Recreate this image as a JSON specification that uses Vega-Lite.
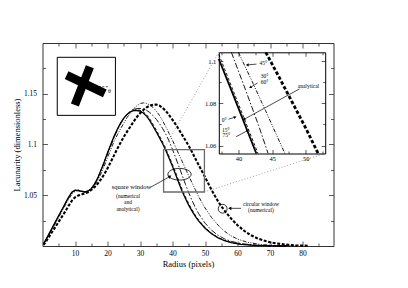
{
"$schema": "https://vega.github.io/schema/vega-lite/v6.json",
"width": 291, "height": 203,
"autosize": {"type": "none"},
"padding": {"left": 42.5, "top": 43, "right": 74.5, "bottom": 42},
"background": "white",
"config": {
  "font": "Liberation Serif",
  "view": {"stroke": null},
  "axis": {"grid": false, "domainColor": "#333333", "tickColor": "#333333", "labelColor": "black", "titleColor": "black", "titleFontWeight": "normal", "labelFont": "Liberation Serif", "titleFont": "Liberation Serif", "labelOverlap": false, "labelFlush": false},
  "text": {"font": "Liberation Serif"}
},
"datasets": {
  "main": [
    {"s":"A","x":0.3,"y":1.002},{"s":"A","x":1,"y":1.006},{"s":"A","x":2,"y":1.012},{"s":"A","x":3,"y":1.018},{"s":"A","x":4,"y":1.024},{"s":"A","x":5,"y":1.030},{"s":"A","x":6,"y":1.036},{"s":"A","x":7,"y":1.042},{"s":"A","x":8,"y":1.048},{"s":"A","x":9,"y":1.053},{"s":"A","x":10,"y":1.055},{"s":"A","x":11,"y":1.0548},{"s":"A","x":12,"y":1.0538},{"s":"A","x":13,"y":1.0532},{"s":"A","x":14,"y":1.054},{"s":"A","x":15,"y":1.0565},{"s":"A","x":16,"y":1.061},{"s":"A","x":17,"y":1.067},{"s":"A","x":18,"y":1.075},{"s":"A","x":19,"y":1.083},{"s":"A","x":20,"y":1.092},{"s":"A","x":21,"y":1.100},{"s":"A","x":22,"y":1.108},{"s":"A","x":23,"y":1.115},{"s":"A","x":24,"y":1.121},{"s":"A","x":25,"y":1.126},{"s":"A","x":26,"y":1.1295},{"s":"A","x":27,"y":1.132},{"s":"A","x":28,"y":1.1333},{"s":"A","x":29,"y":1.1335},{"s":"A","x":30,"y":1.1328},{"s":"A","x":31,"y":1.131},{"s":"A","x":32,"y":1.128},{"s":"A","x":33,"y":1.1235},{"s":"A","x":34,"y":1.118},{"s":"A","x":35,"y":1.1125},{"s":"A","x":36,"y":1.1065},{"s":"A","x":37,"y":1.1005},{"s":"A","x":38,"y":1.0935},{"s":"A","x":39,"y":1.086},{"s":"A","x":40,"y":1.0783},{"s":"A","x":41,"y":1.070},{"s":"A","x":42,"y":1.0615},{"s":"A","x":43,"y":1.0535},{"s":"A","x":44,"y":1.0465},{"s":"A","x":45,"y":1.040},{"s":"A","x":46,"y":1.0343},{"s":"A","x":47,"y":1.0292},{"s":"A","x":48,"y":1.0248},{"s":"A","x":50,"y":1.0175},{"s":"A","x":52,"y":1.012},{"s":"A","x":54,"y":1.008},{"s":"A","x":56,"y":1.0052},{"s":"A","x":58,"y":1.0033},{"s":"A","x":61,"y":1.0017},{"s":"A","x":65,"y":1.0007},{"s":"A","x":70,"y":1.0002},{"s":"A","x":75,"y":1.0},
    {"s":"B","x":0.3,"y":1.002},{"s":"B","x":1,"y":1.0055},{"s":"B","x":2,"y":1.0115},{"s":"B","x":3,"y":1.0175},{"s":"B","x":4,"y":1.0235},{"s":"B","x":5,"y":1.0295},{"s":"B","x":6,"y":1.0355},{"s":"B","x":7,"y":1.0415},{"s":"B","x":8,"y":1.0475},{"s":"B","x":9,"y":1.0525},{"s":"B","x":10,"y":1.0545},{"s":"B","x":11,"y":1.0545},{"s":"B","x":12,"y":1.0537},{"s":"B","x":13,"y":1.0533},{"s":"B","x":14,"y":1.0542},{"s":"B","x":15,"y":1.0568},{"s":"B","x":16,"y":1.0613},{"s":"B","x":17,"y":1.0672},{"s":"B","x":18,"y":1.0748},{"s":"B","x":19,"y":1.0828},{"s":"B","x":20,"y":1.0915},{"s":"B","x":21,"y":1.0995},{"s":"B","x":22,"y":1.1075},{"s":"B","x":23,"y":1.1145},{"s":"B","x":24,"y":1.1207},{"s":"B","x":25,"y":1.1258},{"s":"B","x":26,"y":1.1297},{"s":"B","x":27,"y":1.1323},{"s":"B","x":28,"y":1.1338},{"s":"B","x":29,"y":1.1343},{"s":"B","x":30,"y":1.1338},{"s":"B","x":31,"y":1.1322},{"s":"B","x":32,"y":1.1294},{"s":"B","x":33,"y":1.1252},{"s":"B","x":34,"y":1.1199},{"s":"B","x":35,"y":1.1143},{"s":"B","x":36,"y":1.1083},{"s":"B","x":37,"y":1.1022},{"s":"B","x":38,"y":1.0952},{"s":"B","x":39,"y":1.0878},{"s":"B","x":40,"y":1.0801},{"s":"B","x":41,"y":1.072},{"s":"B","x":42,"y":1.0635},{"s":"B","x":43,"y":1.0553},{"s":"B","x":44,"y":1.0481},{"s":"B","x":45,"y":1.0415},{"s":"B","x":46,"y":1.0356},{"s":"B","x":47,"y":1.0303},{"s":"B","x":48,"y":1.0257},{"s":"B","x":50,"y":1.0182},{"s":"B","x":52,"y":1.0125},{"s":"B","x":54,"y":1.0084},{"s":"B","x":56,"y":1.0055},{"s":"B","x":58,"y":1.0035},{"s":"B","x":61,"y":1.0018},{"s":"B","x":65,"y":1.0008},{"s":"B","x":70,"y":1.0002},{"s":"B","x":75,"y":1.0},
    {"s":"C","x":0.3,"y":1.002},{"s":"C","x":1,"y":1.0058},{"s":"C","x":2,"y":1.0118},{"s":"C","x":3,"y":1.0178},{"s":"C","x":4,"y":1.0238},{"s":"C","x":5,"y":1.0298},{"s":"C","x":6,"y":1.0358},{"s":"C","x":7,"y":1.0418},{"s":"C","x":8,"y":1.0478},{"s":"C","x":9,"y":1.0527},{"s":"C","x":10,"y":1.0548},{"s":"C","x":11,"y":1.055},{"s":"C","x":12,"y":1.0542},{"s":"C","x":13,"y":1.0535},{"s":"C","x":14,"y":1.0542},{"s":"C","x":15,"y":1.0565},{"s":"C","x":16,"y":1.0607},{"s":"C","x":17,"y":1.0665},{"s":"C","x":18,"y":1.074},{"s":"C","x":19,"y":1.082},{"s":"C","x":20,"y":1.0905},{"s":"C","x":21,"y":1.0988},{"s":"C","x":22,"y":1.1068},{"s":"C","x":23,"y":1.114},{"s":"C","x":24,"y":1.1203},{"s":"C","x":25,"y":1.1256},{"s":"C","x":26,"y":1.1298},{"s":"C","x":27,"y":1.1327},{"s":"C","x":28,"y":1.1345},{"s":"C","x":29,"y":1.1354},{"s":"C","x":30,"y":1.1356},{"s":"C","x":31,"y":1.135},{"s":"C","x":32,"y":1.1337},{"s":"C","x":33,"y":1.1315},{"s":"C","x":34,"y":1.1285},{"s":"C","x":35,"y":1.1248},{"s":"C","x":36,"y":1.1205},{"s":"C","x":37,"y":1.1155},{"s":"C","x":38,"y":1.1097},{"s":"C","x":39,"y":1.103},{"s":"C","x":40,"y":1.095},{"s":"C","x":41,"y":1.0866},{"s":"C","x":42,"y":1.078},{"s":"C","x":43,"y":1.0692},{"s":"C","x":44,"y":1.0605},{"s":"C","x":45,"y":1.0522},{"s":"C","x":46,"y":1.0447},{"s":"C","x":47,"y":1.038},{"s":"C","x":48,"y":1.032},{"s":"C","x":50,"y":1.0225},{"s":"C","x":52,"y":1.0155},{"s":"C","x":54,"y":1.0105},{"s":"C","x":56,"y":1.007},{"s":"C","x":58,"y":1.0046},{"s":"C","x":61,"y":1.0024},{"s":"C","x":65,"y":1.001},{"s":"C","x":70,"y":1.0003},{"s":"C","x":76,"y":1.0},
    {"s":"D","x":0.3,"y":1.002},{"s":"D","x":1,"y":1.0055},{"s":"D","x":2,"y":1.011},{"s":"D","x":3,"y":1.0168},{"s":"D","x":4,"y":1.0226},{"s":"D","x":5,"y":1.0284},{"s":"D","x":6,"y":1.0342},{"s":"D","x":7,"y":1.04},{"s":"D","x":8,"y":1.0458},{"s":"D","x":9,"y":1.051},{"s":"D","x":10,"y":1.0538},{"s":"D","x":11,"y":1.0545},{"s":"D","x":12,"y":1.0541},{"s":"D","x":13,"y":1.0536},{"s":"D","x":14,"y":1.0541},{"s":"D","x":15,"y":1.056},{"s":"D","x":16,"y":1.0597},{"s":"D","x":17,"y":1.0648},{"s":"D","x":18,"y":1.0712},{"s":"D","x":19,"y":1.0788},{"s":"D","x":20,"y":1.087},{"s":"D","x":21,"y":1.0952},{"s":"D","x":22,"y":1.103},{"s":"D","x":23,"y":1.1095},{"s":"D","x":24,"y":1.1155},{"s":"D","x":25,"y":1.121},{"s":"D","x":26,"y":1.1265},{"s":"D","x":27,"y":1.131},{"s":"D","x":28,"y":1.135},{"s":"D","x":29,"y":1.138},{"s":"D","x":30,"y":1.1403},{"s":"D","x":31,"y":1.141},{"s":"D","x":32,"y":1.1405},{"s":"D","x":33,"y":1.139},{"s":"D","x":34,"y":1.1365},{"s":"D","x":35,"y":1.133},{"s":"D","x":36,"y":1.1285},{"s":"D","x":37,"y":1.123},{"s":"D","x":38,"y":1.117},{"s":"D","x":39,"y":1.1105},{"s":"D","x":40,"y":1.104},{"s":"D","x":41,"y":1.097},{"s":"D","x":42,"y":1.09},{"s":"D","x":43,"y":1.083},{"s":"D","x":44,"y":1.076},{"s":"D","x":45,"y":1.069},{"s":"D","x":46,"y":1.0622},{"s":"D","x":47,"y":1.0555},{"s":"D","x":48,"y":1.049},{"s":"D","x":49,"y":1.043},{"s":"D","x":50,"y":1.0375},{"s":"D","x":52,"y":1.028},{"s":"D","x":54,"y":1.0205},{"s":"D","x":56,"y":1.0145},{"s":"D","x":58,"y":1.01},{"s":"D","x":60,"y":1.0068},{"s":"D","x":63,"y":1.0037},{"s":"D","x":67,"y":1.0015},{"s":"D","x":72,"y":1.0004},{"s":"D","x":78,"y":1.0},
    {"s":"E","x":0.3,"y":1.001},{"s":"E","x":1,"y":1.004},{"s":"E","x":2,"y":1.009},{"s":"E","x":3,"y":1.014},{"s":"E","x":4,"y":1.019},{"s":"E","x":5,"y":1.024},{"s":"E","x":6,"y":1.029},{"s":"E","x":7,"y":1.034},{"s":"E","x":8,"y":1.0395},{"s":"E","x":9,"y":1.0445},{"s":"E","x":10,"y":1.048},{"s":"E","x":11,"y":1.0497},{"s":"E","x":12,"y":1.0508},{"s":"E","x":13,"y":1.0518},{"s":"E","x":14,"y":1.053},{"s":"E","x":15,"y":1.0552},{"s":"E","x":16,"y":1.058},{"s":"E","x":17,"y":1.0615},{"s":"E","x":18,"y":1.0658},{"s":"E","x":19,"y":1.0708},{"s":"E","x":20,"y":1.0765},{"s":"E","x":21,"y":1.0828},{"s":"E","x":22,"y":1.0893},{"s":"E","x":23,"y":1.0957},{"s":"E","x":24,"y":1.1018},{"s":"E","x":25,"y":1.1075},{"s":"E","x":26,"y":1.1127},{"s":"E","x":27,"y":1.1175},{"s":"E","x":28,"y":1.1225},{"s":"E","x":29,"y":1.127},{"s":"E","x":30,"y":1.1308},{"s":"E","x":31,"y":1.134},{"s":"E","x":32,"y":1.1365},{"s":"E","x":33,"y":1.1383},{"s":"E","x":34,"y":1.1393},{"s":"E","x":35,"y":1.1393},{"s":"E","x":36,"y":1.1382},{"s":"E","x":37,"y":1.136},{"s":"E","x":38,"y":1.1328},{"s":"E","x":39,"y":1.1288},{"s":"E","x":40,"y":1.1243},{"s":"E","x":41,"y":1.1196},{"s":"E","x":42,"y":1.1145},{"s":"E","x":43,"y":1.1092},{"s":"E","x":44,"y":1.104},{"s":"E","x":45,"y":1.0985},{"s":"E","x":46,"y":1.0925},{"s":"E","x":47,"y":1.0862},{"s":"E","x":48,"y":1.08},{"s":"E","x":49,"y":1.074},{"s":"E","x":50,"y":1.0678},{"s":"E","x":51,"y":1.0615},{"s":"E","x":52,"y":1.0553},{"s":"E","x":53,"y":1.0495},{"s":"E","x":54,"y":1.044},{"s":"E","x":55,"y":1.0392},{"s":"E","x":56,"y":1.0348},{"s":"E","x":58,"y":1.027},{"s":"E","x":60,"y":1.0205},{"s":"E","x":62,"y":1.015},{"s":"E","x":64,"y":1.0108},{"s":"E","x":66,"y":1.0077},{"s":"E","x":68,"y":1.0054},{"s":"E","x":70,"y":1.0037},{"s":"E","x":72,"y":1.0025},{"s":"E","x":75,"y":1.0013},{"s":"E","x":78,"y":1.0006},{"s":"E","x":82,"y":1.0002}
  ],
  "inset": [
    {"s":"A","x":37.06,"y":1.1011},{"s":"A","x":39,"y":1.0857},{"s":"A","x":41,"y":1.0695},{"s":"A","x":42.64,"y":1.0562},
    {"s":"B","x":37.06,"y":1.1033},{"s":"B","x":39,"y":1.0877},{"s":"B","x":41,"y":1.0715},{"s":"B","x":42.9,"y":1.0562},
    {"s":"C","x":38.93,"y":1.1043},{"s":"C","x":41,"y":1.0868},{"s":"C","x":43,"y":1.0694},{"s":"C","x":44.4,"y":1.0562},
    {"s":"D","x":39.98,"y":1.1043},{"s":"D","x":42,"y":1.0906},{"s":"D","x":44,"y":1.0767},{"s":"D","x":46.9,"y":1.0562},
    {"s":"E","x":44.05,"y":1.1043},{"s":"E","x":46,"y":1.0927},{"s":"E","x":48,"y":1.0805},{"s":"E","x":50,"y":1.0683},{"s":"E","x":51.85,"y":1.0562}
  ]
},
"layer": [
  {
    "layer": [
      {
        "data": {"name": "main"},
        "transform": [{"filter": "datum.s === 'A'"}],
        "mark": {"type": "line", "color": "black", "strokeWidth": 1.3},
        "encoding": {
          "x": {"field": "x", "type": "quantitative", "scale": {"domain": [0, 89.5], "nice": false, "zero": false},
                "axis": {"orient": "bottom", "values": [5,10,15,20,25,30,35,40,45,50,55,60,65,70,75,80,85], "labelExpr": "datum.value % 10 === 0 ? datum.label : ''", "tickSize": {"condition": {"test": "datum.value % 10 === 0", "value": -5}, "value": -3}, "tickWidth": 0.8, "domainWidth": 1, "labelPadding": 8, "labelFontSize": 7.5, "title": "Radius (pixels)", "titleFontSize": 8.5, "titlePadding": 1}},
          "y": {"field": "y", "type": "quantitative", "scale": {"domain": [1.0, 1.2], "nice": false, "zero": false},
                "axis": {"orient": "left", "values": [1.025,1.05,1.075,1.1,1.125,1.15,1.175], "format": "~g", "labelExpr": "round(datum.value*40) % 2 === 0 ? datum.label : ''", "tickSize": {"condition": {"test": "round(datum.value*40) % 2 === 0", "value": -5}, "value": -3}, "tickWidth": 0.8, "domainWidth": 1, "labelPadding": 11, "labelFontSize": 7.5, "title": "Lacunarity (dimensionless)", "titleFontSize": 8.5, "titlePadding": 2}}
        }
      },
      {
        "data": {"name": "main"},
        "transform": [{"filter": "datum.s === 'B' || datum.s === 'C' || datum.s === 'D'"}],
        "mark": {"type": "line", "color": "black", "strokeWidth": 0.9, "strokeCap": "butt"},
        "encoding": {
          "x": {"field": "x", "type": "quantitative", "axis": null},
          "y": {"field": "y", "type": "quantitative", "axis": null},
          "strokeDash": {"field": "s", "type": "nominal", "scale": {"domain": ["B","C","D"], "range": [[3,2],[6,2,1.5,2],[4,1.5,1,1.5,1,1.5]]}, "legend": null}
        }
      },
      {
        "data": {"name": "main"},
        "transform": [{"filter": "datum.s === 'E'"}],
        "mark": {"type": "line", "color": "black", "strokeWidth": 2.1, "strokeDash": [3, 1.6], "strokeCap": "butt"},
        "encoding": {
          "x": {"field": "x", "type": "quantitative", "axis": null},
          "y": {"field": "y", "type": "quantitative", "axis": null}
        }
      },
      {
        "data": {"name": "main"},
        "mark": {"type": "point", "opacity": 0},
        "encoding": {
          "x": {"field": "x", "type": "quantitative",
                "axis": {"orient": "top", "values": [5,10,15,20,25,30,35,40,45,50,55,60,65,70,75,80,85], "labels": false, "tickSize": {"condition": {"test": "datum.value % 10 === 0", "value": -5}, "value": -3}, "tickWidth": 0.8, "domainWidth": 1, "title": null}},
          "y": {"field": "y", "type": "quantitative",
                "axis": {"orient": "right", "values": [1.025,1.05,1.075,1.1,1.125,1.15,1.175], "labels": false, "tickSize": {"condition": {"test": "round(datum.value*40) % 2 === 0", "value": -5}, "value": -3}, "tickWidth": 0.8, "domainWidth": 1, "title": null}}
        }
      },
      {
        "data": {"values": [{"x": 37.24, "x2": 49.8, "y": 1.0532, "y2": 1.0949}]},
        "mark": {"type": "rect", "fillOpacity": 0, "stroke": "#6a6a6a", "strokeWidth": 1.3},
        "encoding": {"x": {"field": "x", "type": "quantitative", "axis": null}, "x2": {"field": "x2"}, "y": {"field": "y", "type": "quantitative", "axis": null}, "y2": {"field": "y2"}}
      },
      {
        "data": {"values": [{"x": 37.24, "y": 1.0949, "x2": 54.18, "y2": 1.1908}, {"x": 49.8, "y": 1.0532, "x2": 86.79, "y2": 1.0911}]},
        "mark": {"type": "rule", "color": "#888888", "strokeWidth": 0.8, "strokeDash": [1, 2]},
        "encoding": {"x": {"field": "x", "type": "quantitative", "axis": null}, "x2": {"field": "x2"}, "y": {"field": "y", "type": "quantitative", "axis": null}, "y2": {"field": "y2"}}
      },
      {
        "data": {"values": [{"x": 42.14, "y": 1.0707}]},
        "mark": {"type": "point", "shape": "M-1,0A1,0.5,0,1,0,1,0A1,0.5,0,1,0,-1,0Z", "size": 543, "stroke": "black", "strokeWidth": 0.8, "filled": false, "opacity": 1},
        "encoding": {"x": {"field": "x", "type": "quantitative", "axis": null}, "y": {"field": "y", "type": "quantitative", "axis": null}}
      },
      {
        "data": {"values": [{"x": 55.41, "y": 1.0367}]},
        "mark": {"type": "point", "shape": "circle", "size": 78, "stroke": "black", "strokeWidth": 0.8, "filled": false, "opacity": 1},
        "encoding": {"x": {"field": "x", "type": "quantitative", "axis": null}, "y": {"field": "y", "type": "quantitative", "axis": null}}
      },
      {
        "data": {"values": [{"x": 33.2, "y": 1.0578, "x2": 39.2, "y2": 1.0685}, {"x": 61.05, "y": 1.0371, "x2": 57.6, "y2": 1.0371}]},
        "mark": {"type": "rule", "color": "black", "strokeWidth": 0.7},
        "encoding": {"x": {"field": "x", "type": "quantitative", "axis": null}, "x2": {"field": "x2"}, "y": {"field": "y", "type": "quantitative", "axis": null}, "y2": {"field": "y2"}}
      },
      {
        "data": {"values": [{"x": 39.2, "y": 1.0685}]},
        "mark": {"type": "point", "shape": "triangle-right", "angle": -33, "size": 14, "filled": true, "color": "black", "opacity": 1},
        "encoding": {"x": {"field": "x", "type": "quantitative", "axis": null}, "y": {"field": "y", "type": "quantitative", "axis": null}}
      },
      {
        "data": {"values": [{"x": 57.6, "y": 1.0371}]},
        "mark": {"type": "point", "shape": "triangle-left", "size": 14, "filled": true, "color": "black", "opacity": 1},
        "encoding": {"x": {"field": "x", "type": "quantitative", "axis": null}, "y": {"field": "y", "type": "quantitative", "axis": null}}
      },
      {
        "data": {"values": [{"t": "square window", "x": 27.34, "y": 1.0584}]},
        "mark": {"type": "text", "fontSize": 6.5, "color": "black", "align": "center", "baseline": "middle"},
        "encoding": {"x": {"field": "x", "type": "quantitative", "axis": null}, "y": {"field": "y", "type": "quantitative", "axis": null}, "text": {"field": "t"}}
      },
      {
        "data": {"values": [{"t": "(numerical", "x": 26.3, "y": 1.0493}, {"t": "and", "x": 26.3, "y": 1.0433}, {"t": "analytical)", "x": 26.3, "y": 1.0367}, {"t": "circular window", "x": 67.18, "y": 1.0414}, {"t": "(numerical)", "x": 67.18, "y": 1.0355}]},
        "mark": {"type": "text", "fontSize": 5.5, "color": "black", "align": "center", "baseline": "middle"},
        "encoding": {"x": {"field": "x", "type": "quantitative", "axis": null}, "y": {"field": "y", "type": "quantitative", "axis": null}, "text": {"field": "t"}}
      },
      {
        "data": {"values": [{"x": 4.54, "x2": 22.43, "y": 1.1287, "y2": 1.1859}]},
        "mark": {"type": "rect", "fill": "white", "stroke": "black", "strokeWidth": 1},
        "encoding": {"x": {"field": "x", "type": "quantitative", "axis": null}, "x2": {"field": "x2"}, "y": {"field": "y", "type": "quantitative", "axis": null}, "y2": {"field": "y2"}}
      },
      {
        "data": {"values": [{"x": 9.96, "y": 1.1389, "x2": 14.56, "y2": 1.1766}, {"x": 7.42, "y": 1.1684, "x2": 19.15, "y2": 1.1504}]},
        "mark": {"type": "rule", "color": "black", "strokeWidth": 8.5, "strokeCap": "butt"},
        "encoding": {"x": {"field": "x", "type": "quantitative", "axis": null}, "x2": {"field": "x2"}, "y": {"field": "y", "type": "quantitative", "axis": null}, "y2": {"field": "y2"}}
      },
      {
        "data": {"values": [{"x": 13.02, "y": 1.1569, "x2": 20.17, "y2": 1.1569}]},
        "mark": {"type": "rule", "color": "black", "strokeWidth": 0.7, "strokeDash": [2, 1.5]},
        "encoding": {"x": {"field": "x", "type": "quantitative", "axis": null}, "x2": {"field": "x2"}, "y": {"field": "y", "type": "quantitative", "axis": null}, "y2": {"field": "y2"}}
      },
      {
        "data": {"values": [{"t": "θ", "x": 20.6, "y": 1.1527}]},
        "mark": {"type": "text", "fontSize": 6, "color": "black", "align": "center", "baseline": "middle"},
        "encoding": {"x": {"field": "x", "type": "quantitative", "axis": null}, "y": {"field": "y", "type": "quantitative", "axis": null}, "text": {"field": "t"}}
      }
    ],
    "resolve": {"axis": {"x": "independent", "y": "independent"}}
  },
  {
    "layer": [
      {
        "data": {"values": [{"x": 37.06, "x2": 52.9, "y": 1.0562, "y2": 1.1043}]},
        "mark": {"type": "rect", "fill": "white", "stroke": null},
        "encoding": {
          "x": {"field": "x", "type": "quantitative", "scale": {"domain": [37.06, 52.9], "range": [176.3, 282.7], "nice": false, "zero": false}, "axis": null},
          "x2": {"field": "x2"},
          "y": {"field": "y", "type": "quantitative", "scale": {"domain": [1.0562, 1.1043], "range": [110.5, 9.3], "nice": false, "zero": false}, "axis": null},
          "y2": {"field": "y2"}
        }
      },
      {
        "data": {"name": "inset"},
        "transform": [{"filter": "datum.s === 'A'"}],
        "mark": {"type": "line", "color": "black", "strokeWidth": 1.8},
        "encoding": {
          "x": {"field": "x", "type": "quantitative",
                "axis": {"orient": "bottom", "offset": -92.5, "zindex": 1, "values": [37.5,40,42.5,45,47.5,50,52.5], "labelExpr": "datum.value % 5 === 0 ? datum.label : ''", "tickSize": {"condition": {"test": "datum.value % 5 === 0", "value": -4}, "value": -2.5}, "tickWidth": 0.8, "domainColor": "black", "domainWidth": 1, "labelPadding": 5.5, "labelFontSize": 6.5, "title": null}},
          "y": {"field": "y", "type": "quantitative",
                "axis": {"orient": "left", "offset": -176.3, "zindex": 1, "values": [1.06,1.07,1.08,1.09,1.1], "format": "~g", "labelExpr": "round(datum.value*100) % 2 === 0 ? datum.label : ''", "tickSize": {"condition": {"test": "round(datum.value*100) % 2 === 0", "value": -4}, "value": -2.5}, "tickWidth": 0.8, "domainColor": "black", "domainWidth": 1, "labelPadding": 7, "labelFontSize": 6.5, "title": null}}
        }
      },
      {
        "data": {"name": "inset"},
        "transform": [{"filter": "datum.s === 'B' || datum.s === 'C' || datum.s === 'D'"}],
        "mark": {"type": "line", "color": "black", "strokeWidth": 0.9, "strokeCap": "butt"},
        "encoding": {
          "x": {"field": "x", "type": "quantitative", "axis": null},
          "y": {"field": "y", "type": "quantitative", "axis": null},
          "strokeDash": {"field": "s", "type": "nominal", "scale": {"domain": ["B","C","D"], "range": [[3,2],[6,2,1.5,2],[4,1.5,1,1.5,1,1.5]]}, "legend": null}
        }
      },
      {
        "data": {"name": "inset"},
        "transform": [{"filter": "datum.s === 'E'"}],
        "mark": {"type": "line", "color": "black", "strokeWidth": 2.8, "strokeDash": [3.5, 2], "strokeCap": "butt"},
        "encoding": {
          "x": {"field": "x", "type": "quantitative", "axis": null},
          "y": {"field": "y", "type": "quantitative", "axis": null}
        }
      },
      {
        "data": {"name": "inset"},
        "mark": {"type": "point", "opacity": 0},
        "encoding": {
          "x": {"field": "x", "type": "quantitative",
                "axis": {"orient": "top", "offset": -9.3, "zindex": 1, "values": [37.5,40,42.5,45,47.5,50,52.5], "labels": false, "tickSize": {"condition": {"test": "datum.value % 5 === 0", "value": -4}, "value": -2.5}, "tickWidth": 0.8, "domainColor": "black", "domainWidth": 1, "title": null}},
          "y": {"field": "y", "type": "quantitative",
                "axis": {"orient": "right", "offset": -8.3, "zindex": 1, "values": [1.06,1.07,1.08,1.09,1.1], "labels": false, "tickSize": {"condition": {"test": "round(datum.value*100) % 2 === 0", "value": -4}, "value": -2.5}, "tickWidth": 0.8, "domainColor": "black", "domainWidth": 1, "title": null}}
        }
      },
      {
        "data": {"values": [{"x": 42.67, "y": 1.0987, "x2": 41.3, "y2": 1.0983}, {"x": 42.82, "y": 1.0897, "x2": 41.75, "y2": 1.0876}, {"x": 49.07, "y": 1.0869, "x2": 40.8, "y2": 1.0724}, {"x": 38.5, "y": 1.0725, "x2": 39.5, "y2": 1.0735}, {"x": 39.65, "y": 1.0642, "x2": 41.35, "y2": 1.0671}]},
        "mark": {"type": "rule", "color": "black", "strokeWidth": 0.7},
        "encoding": {"x": {"field": "x", "type": "quantitative", "axis": null}, "x2": {"field": "x2"}, "y": {"field": "y", "type": "quantitative", "axis": null}, "y2": {"field": "y2"}}
      },
      {
        "data": {"values": [{"x": 41.3, "y": 1.0983, "a": 180}, {"x": 41.75, "y": 1.0876, "a": 150}, {"x": 40.8, "y": 1.0724, "a": 151}, {"x": 39.5, "y": 1.0735, "a": -19}, {"x": 41.35, "y": 1.0671, "a": -28}]},
        "mark": {"type": "point", "shape": "triangle-right", "size": 10, "filled": true, "color": "black", "opacity": 1},
        "encoding": {"x": {"field": "x", "type": "quantitative", "axis": null}, "y": {"field": "y", "type": "quantitative", "axis": null}, "angle": {"field": "a", "type": "quantitative", "scale": null}}
      },
      {
        "data": {"values": [{"t": "45°", "x": 43.7, "y": 1.0991}, {"t": "30°", "x": 43.86, "y": 1.0929}, {"t": "60°", "x": 43.86, "y": 1.0904}, {"t": "analytical", "x": 50.4, "y": 1.0882}, {"t": "0°", "x": 37.85, "y": 1.0721}, {"t": "15°", "x": 38.1, "y": 1.0676}, {"t": "75°", "x": 38.2, "y": 1.0651}]},
        "mark": {"type": "text", "fontSize": 5.5, "color": "black", "align": "center", "baseline": "middle"},
        "encoding": {"x": {"field": "x", "type": "quantitative", "axis": null}, "y": {"field": "y", "type": "quantitative", "axis": null}, "text": {"field": "t"}}
      }
    ],
    "resolve": {"axis": {"x": "independent", "y": "independent"}}
  }
],
"resolve": {"scale": {"x": "independent", "y": "independent"}, "axis": {"x": "independent", "y": "independent"}}
}
